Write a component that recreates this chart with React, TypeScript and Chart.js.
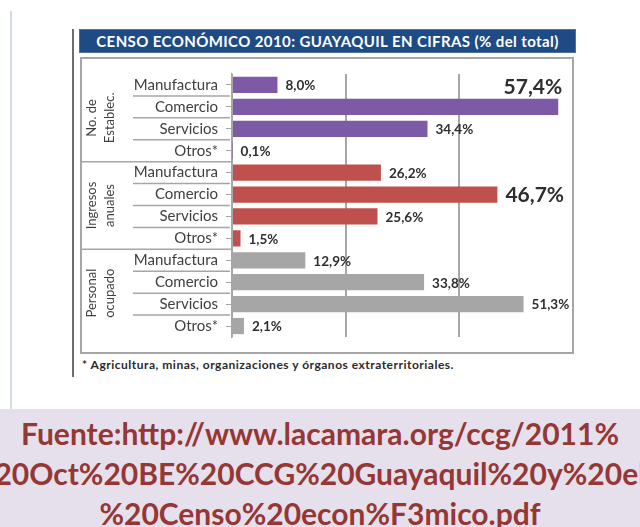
import React, { useEffect, useRef } from "react";
import { Chart, registerables } from "chart.js";

Chart.register(...registerables);

const titleText = "CENSO ECONÓMICO 2010: GUAYAQUIL EN CIFRAS (% del total)";
const categories = [
  "Manufactura", "Comercio", "Servicios", "Otros*",
  "Manufactura", "Comercio", "Servicios", "Otros*",
  "Manufactura", "Comercio", "Servicios", "Otros*",
];
const groupNames = [["No. de", "Establec."], ["Ingresos", "anuales"], ["Personal", "ocupado"]];
const establecimientos = [8.0, 57.4, 34.4, 0.1];
const ingresos = [26.2, 46.7, 25.6, 1.5];
const personal = [12.9, 33.8, 51.3, 2.1];
const xTickValues = [0, 20, 40, 60];
const emphasized = [false, true, false, false, false, true, false, false, false, false, false, false];
const footnote = "* Agricultura, minas, organizaciones y órganos extraterritoriales.";
const sourceLines = [
  "Fuente:http://www.lacamara.org/ccg/2011%",
  "20Oct%20BE%20CCG%20Guayaquil%20y%20el",
  "%20Censo%20econ%F3mico.pdf",
];

const groupColors = ["#7D5AA6", "#C0504D", "#A6A6A6"];
const FONT = "Lato, 'Open Sans', sans-serif";

function fmt(v: number) {
  return v.toFixed(1).replace(".", ",") + "%";
}

export default function App() {
  const canvasRef = useRef<HTMLCanvasElement | null>(null);

  useEffect(() => {
    const values = [...establecimientos, ...ingresos, ...personal];
    const colors = values.map((_, i) => groupColors[Math.floor(i / 4)]);

    const decorPlugin = {
      id: "decor",
      beforeDraw(chart: any) {
        const ctx = chart.ctx;
        ctx.save();
        ctx.strokeStyle = "#A6A6A6";
        ctx.lineWidth = 2;
        ctx.strokeRect(1, 1, chart.width - 2, chart.height - 2);
        ctx.restore();
      },
      afterDraw(chart: any) {
        const ctx = chart.ctx;
        const y = chart.scales.y;
        const left = chart.chartArea.left;
        ctx.save();
        ctx.strokeStyle = "#A6A6A6";
        ctx.lineWidth = 1.5;
        for (let i = 0; i < categories.length - 1; i++) {
          const yy = (y.getPixelForValue(i) + y.getPixelForValue(i + 1)) / 2;
          const isGroup = (i + 1) % 4 === 0;
          ctx.beginPath();
          ctx.moveTo(isGroup ? 1 : 53, yy);
          ctx.lineTo(isGroup ? left : left - 2, yy);
          ctx.stroke();
        }
        ctx.fillStyle = "#404040";
        ctx.font = `13px ${FONT}`;
        ctx.textAlign = "center";
        ctx.textBaseline = "middle";
        groupNames.forEach((lines, g) => {
          const cy = (y.getPixelForValue(g * 4) + y.getPixelForValue(g * 4 + 3)) / 2;
          ctx.save();
          ctx.translate(21, cy);
          ctx.rotate(-Math.PI / 2);
          lines.forEach((t, k) => {
            ctx.fillText(t, 0, (k - 0.5) * 18);
          });
          ctx.restore();
        });
        ctx.restore();
      },
      afterDatasetsDraw(chart: any) {
        const ctx = chart.ctx;
        const meta = chart.getDatasetMeta(0);
        ctx.save();
        ctx.fillStyle = "#2E2E2E";
        meta.data.forEach((el: any, i: number) => {
          const txt = fmt(values[i]);
          if (emphasized[i]) {
            ctx.font = `bold 21px ${FONT}`;
            if (i === 1) {
              ctx.textAlign = "right";
              ctx.textBaseline = "bottom";
              ctx.fillText(txt, el.x + 4, el.y - el.height / 2 - 1);
            } else {
              ctx.textAlign = "left";
              ctx.textBaseline = "middle";
              ctx.fillText(txt, el.x + 8, el.y + 1);
            }
          } else {
            ctx.font = `bold 13.5px ${FONT}`;
            ctx.textAlign = "left";
            ctx.textBaseline = "middle";
            ctx.fillText(txt, el.x + 8, el.y + 1);
          }
        });
        ctx.restore();
      },
    };

    const chart = new Chart(canvasRef.current as HTMLCanvasElement, {
      type: "bar",
      data: {
        labels: categories,
        datasets: [
          {
            data: values,
            backgroundColor: colors,
            borderWidth: 0,
            barPercentage: 0.74,
            categoryPercentage: 1,
          },
        ],
      },
      options: {
        indexAxis: "y",
        animation: false,
        responsive: false,
        maintainAspectRatio: false,
        layout: { padding: { left: 0, right: 1, top: 1, bottom: 1 } },
        plugins: { legend: { display: false }, tooltip: { enabled: false }, title: { display: false } },
        scales: {
          x: {
            min: xTickValues[0],
            max: xTickValues[xTickValues.length - 1],
            afterBuildTicks(scale: any) {
              scale.ticks = xTickValues.map((v) => ({ value: v }));
            },
            afterFit(scale: any) {
              scale.height = 0;
            },
            ticks: { display: false },
            border: { display: false },
            grid: { color: "#A6A6A6", lineWidth: 2, drawTicks: false },
          },
          y: {
            type: "category",
            afterFit(scale: any) {
              scale.width = 152;
            },
            ticks: {
              color: "#404040",
              font: { family: FONT, size: 15 },
              padding: 8,
              autoSkip: false,
            },
            border: { display: true, color: "#A6A6A6", width: 1.5 },
            grid: { drawOnChartArea: false, drawTicks: true, tickLength: 6, offset: false, color: "#A6A6A6" },
          },
        },
      },
      plugins: [decorPlugin],
    } as any);
    return () => chart.destroy();
  }, []);

  return (
    <div
      style={{
        position: "fixed",
        left: 0,
        top: 0,
        width: 640,
        height: 527,
        overflow: "hidden",
        background: "#ffffff",
        fontFamily: FONT,
      }}
    >
      <div style={{ position: "absolute", left: 10, top: 11, width: 2, height: 398, background: "#D5DBE6" }} />
      <div style={{ position: "absolute", left: 72, top: 29, width: 2, height: 348, background: "#6E6E6E" }} />
      <div
        style={{
          position: "absolute",
          left: 79,
          top: 29,
          width: 497,
          height: 24,
          background: "#1F4B84",
          border: "1px solid #4A6FA0",
          boxSizing: "border-box",
          color: "#ffffff",
          fontWeight: 700,
          fontSize: 15,
          letterSpacing: 0.4,
          lineHeight: "22px",
          textAlign: "center",
          whiteSpace: "nowrap",
        }}
      >
        {titleText}
      </div>
      <canvas
        ref={canvasRef}
        width={494}
        height={297}
        style={{ position: "absolute", left: 80, top: 57, width: 494, height: 297 }}
      />
      <div
        style={{
          position: "absolute",
          left: 82,
          top: 357,
          fontSize: 12,
          letterSpacing: 0.5,
          fontWeight: 700,
          color: "#2a2a2a",
          whiteSpace: "nowrap",
        }}
      >
        {footnote}
      </div>
      <div
        style={{
          position: "absolute",
          left: 0,
          top: 409,
          width: 640,
          height: 118,
          background: "#E5E0EC",
        }}
      >
        {sourceLines.map((t, i) => (
          <div
            key={i}
            style={{
              position: "absolute",
              left: -100,
              width: 840,
              top: 4 + i * 40,
              height: 40,
              lineHeight: "40px",
              textAlign: "center",
              whiteSpace: "nowrap",
              color: "#953735",
              fontWeight: 700,
              fontSize: 30,
            }}
          >
            {t}
          </div>
        ))}
      </div>
    </div>
  );
}
